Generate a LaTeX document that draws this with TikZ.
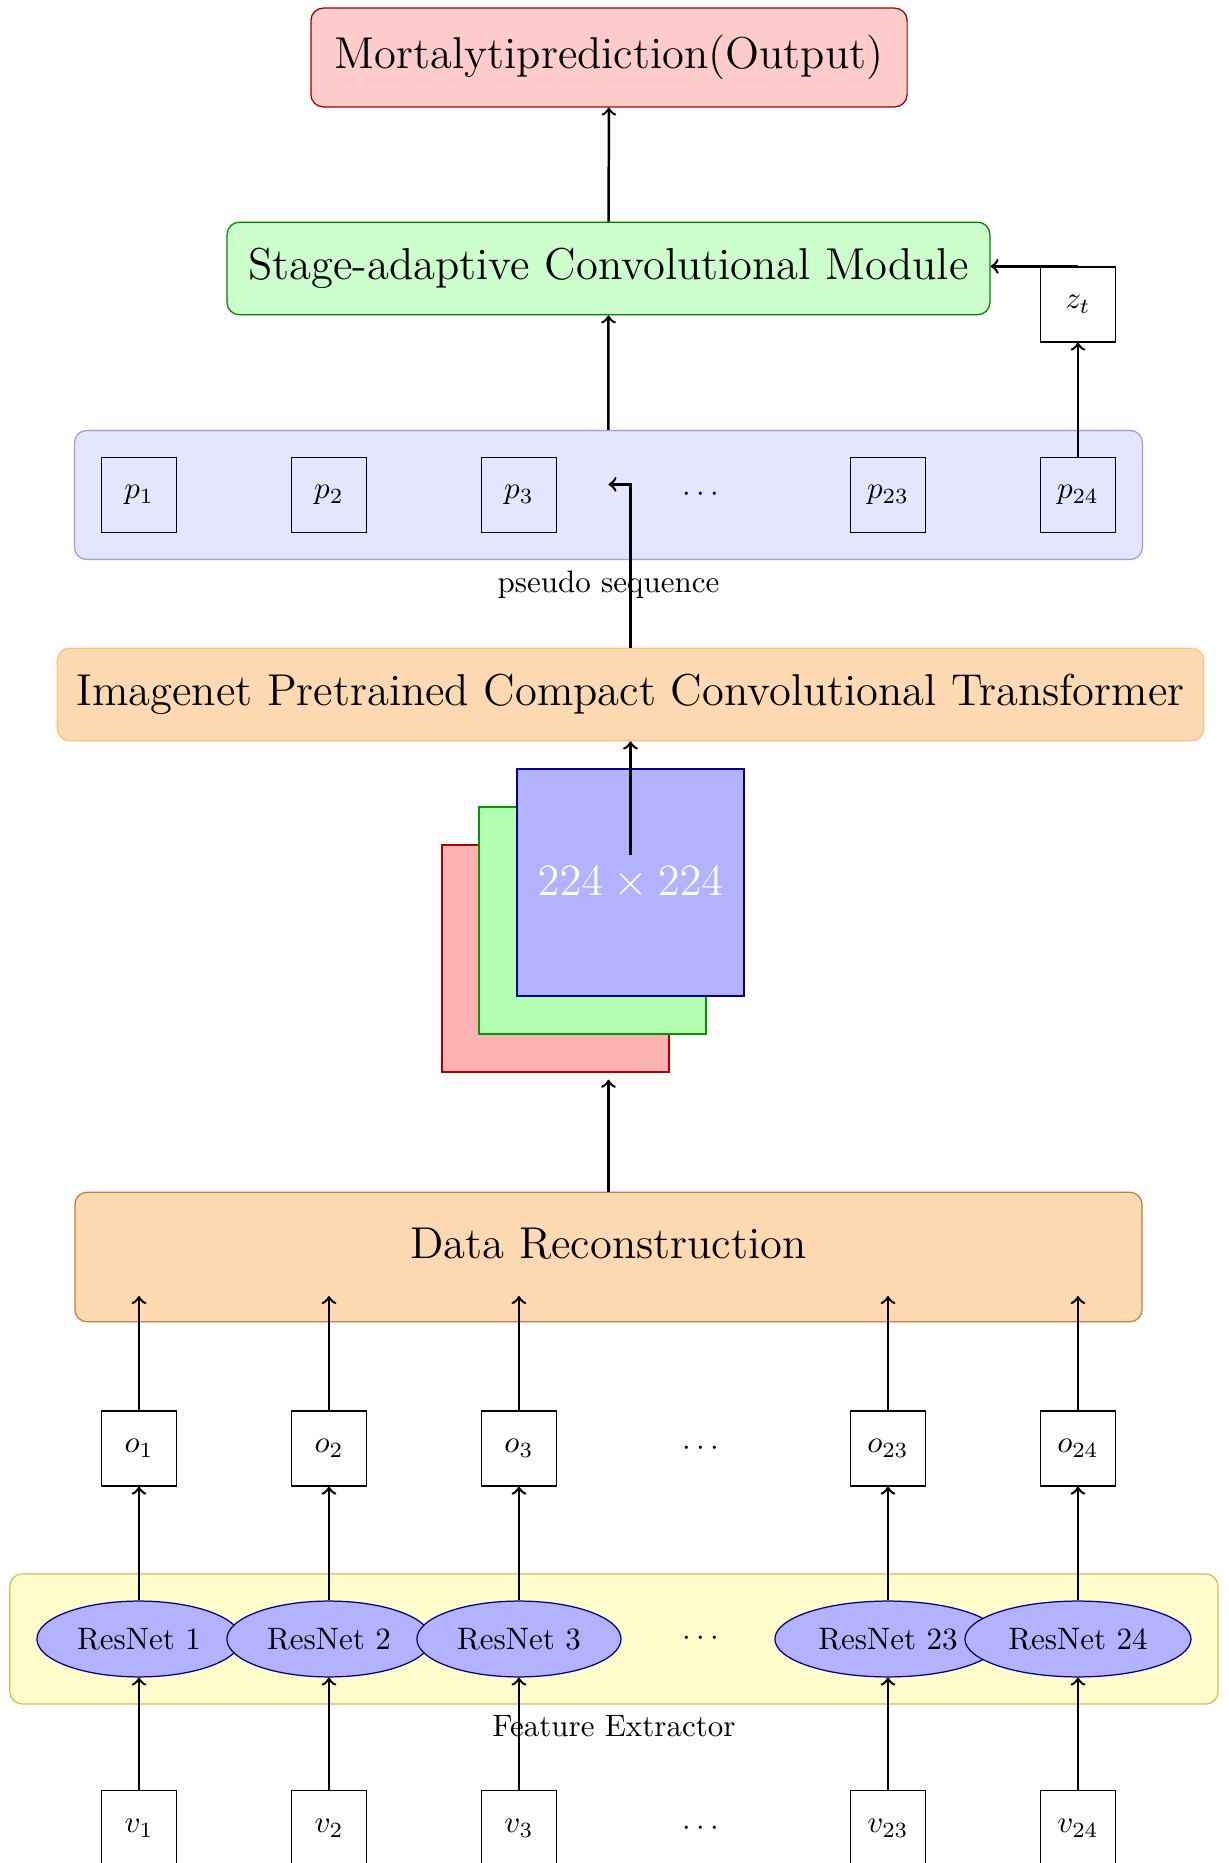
\documentclass[tikz,border=0pt]{standalone}
\usetikzlibrary{shapes.geometric,fit,backgrounds}
\begin{document}
\begin{tikzpicture}[>=to,
	box/.style={draw,minimum size=.85cm},
	resnet/.style={ellipse,draw=blue!50!black,fill=blue!30,minimum height=.86cm},
	bigbox/.style={rounded corners,font=\Large},
	group/.style={rounded corners,inner sep=.3cm},
	img/.style={minimum size=2.574cm},
	arr/.style={->,thick}]% SO DO MO HINH
	\useasboundingbox (0,0) rectangle (13.934,-21.123);
	\foreach \i/\x in {1/1.576,2/3.730,3/5.884,23/10.068,24/12.222}{
		\node[box] (v\i) at (\x,-20.73) {$v_{\i}$};
		\node[resnet] (r\i) at (\x,-18.583) {ResNet \i};
		\node[box] (o\i) at (\x,-16.423) {$o_{\i}$};
		\node[box] (p\i) at (\x,-5.612) {$p_{\i}$};
	}
	\node (vd) at (7.948,-20.73) {$\cdots$};
	\node (rd) at (7.948,-18.583) {$\cdots$};
	\node (od) at (7.948,-16.423) {$\cdots$};
	\node (pd) at (7.948,-5.612) {$\cdots$};
	\node[box] (zt) at (12.222,-3.452) {$z_t$};
	\begin{scope}[on background layer]
		\node[group,draw=olive!50,fill=yellow!20,fit=(r1)(r24),label=below:Feature Extractor] (feat) {};
		\node[group,draw=blue!40,fill=blue!10,fit=(p1)(p24),label=below:pseudo sequence] (pseudo) {};
	\end{scope}
	\node[bigbox,draw=brown,fill=orange!30,minimum width=12.1cm,minimum height=1.47cm] (recon) at (6.899,-14.252) {};
	\node[font=\Large] (recontext) at ([yshift=.15cm]recon.center) {Data Reconstruction};
	\node[img,draw=red!70!black,fill=red!30] (imgr) at (6.298,-10.868) {};
	\node[img,draw=green!60!black,fill=green!30] (imgg) at (6.718,-10.437) {};
	\node[img,draw=blue!60!black,fill=blue!30] (imgb) at (7.149,-10.006) {};
	\node[font=\Large,text=white] (size) at (imgb.center) {$224\times224$};
	\node[bigbox,draw=orange!50,fill=orange!30,minimum width=13cm,minimum height=1.05cm] (cct) at (7.149,-7.874) {Imagenet Pretrained Compact Convolutional Transformer};
	\node[bigbox,draw=green!50!black,fill=green!20,minimum width=8.65cm,minimum height=1.05cm] (stage) at (6.899,-3.044) {Stage-adaptive Convolutional Module};
	\node[bigbox,draw=red!60!black,fill=red!20,minimum width=6.76cm,minimum height=1.12cm] (mort) at (6.905,-0.652) {Mortalytiprediction(Output)};
	\coordinate (pin) at ([yshift=.12cm]pseudo.center);
	\foreach \i in {1,2,3,23,24}{
		\draw[arr] (v\i) -- (r\i);
		\draw[arr] (r\i) -- (o\i);
		\draw[arr] (o\i) -- ([yshift=.3cm]recon.south -| o\i);
	}
	\draw[arr] (recon.north) -- ([yshift=-.08cm]recon.north |- imgr.south);
	\draw[arr] (size.north) -- (cct.south -| size.north);
	\draw[arr] (cct.north -| size.north) |- (pin);
	\draw[arr] (pseudo) -- (stage);
	\draw[arr] (stage) -- (mort);
	\draw[arr] (p24) -- (zt);
	\draw[arr] (zt.north) -- (zt.north -| stage.east);
\end{tikzpicture}
\end{document}
